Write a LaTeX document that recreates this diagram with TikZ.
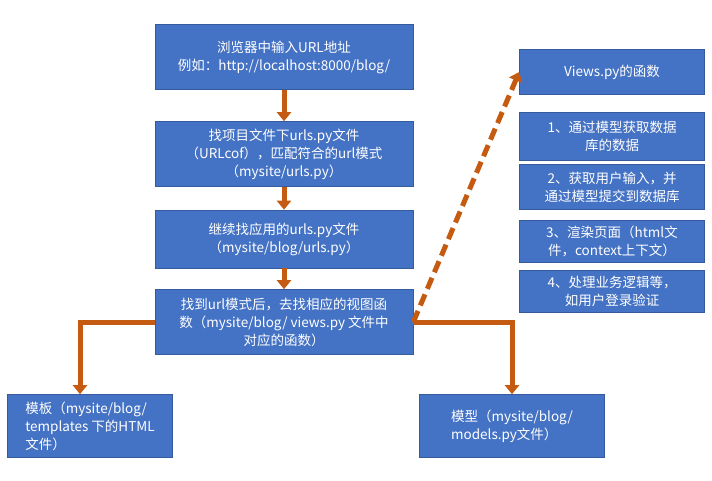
\documentclass[tikz,border=0pt]{standalone}
\usepackage{fontspec}
\setmainfont{Noto Sans CJK SC}
\usetikzlibrary{arrows.meta}
\definecolor{bx}{HTML}{4472C4}
\definecolor{ar}{HTML}{C55A11}
\tikzset{box/.style={fill=bx,draw=bx!80!black,line width=0.6pt,text=white,align=center,font=\fontsize{13.5}{18}\selectfont,inner sep=0pt},
con/.style={draw=ar,line width=5pt,-{Triangle[length=9pt,width=14pt]}}}
\begin{document}
\begin{tikzpicture}[x=1pt,y=-1pt]
\useasboundingbox[fill=white] (0,0) rectangle (712,481);
\node[box,minimum width=258,minimum height=65] (b1) at (284,57) {浏览器中输入URL地址\\例如：http://localhost:8000/blog/};
\node[box,minimum width=258,minimum height=65] (b2) at (284,154) {找项目文件下urls.py文件\\（URLcof），匹配符合的url模式\\（mysite/urls.py）};
\node[box,minimum width=258,minimum height=58] (b3) at (284,239) {继续找应用的urls.py文件\\（mysite/blog/urls.py）};
\node[box,minimum width=258,minimum height=65] (b4) at (284,322) {找到url模式后，去找相应的视图函\\数（mysite/blog/ views.py 文件中\\对应的函数）};
\node[box,minimum width=165,minimum height=63,align=left] (lt) at (90,426) {模板（mysite/blog/\\templates 下的HTML\\文件）};
\node[box,minimum width=185,minimum height=63,align=left] (rt) at (512,426) {模型（mysite/blog/\\models.py文件）};
\node[box,minimum width=185,minimum height=45] (v) at (612,72) {Views.py的函数};
\node[box,minimum width=185,minimum height=48] (s1) at (612,136) {1、通过模型获取数据\\库的数据};
\node[box,minimum width=185,minimum height=45] (s2) at (612,187) {2、获取用户输入，并\\通过模型提交到数据库};
\node[box,minimum width=185,minimum height=42] (s3) at (612,241) {3、渲染页面（html文\\件，context上下文）};
\node[box,minimum width=185,minimum height=42] (s4) at (612,291) {4、处理业务逻辑等，\\如用户登录验证};
\draw[con] (b1) -- (b2);
\draw[con] (b2) -- (b3);
\draw[con] (b3) -- (b4);
\draw[con] (b4.west) -| (lt.north -| 80,0);
\draw[con] (b4.east) -| (rt.north);
\draw[con,dashed,dash pattern=on 12pt off 6pt] (b4.east) -- (v.west);
\end{tikzpicture}
\end{document}
